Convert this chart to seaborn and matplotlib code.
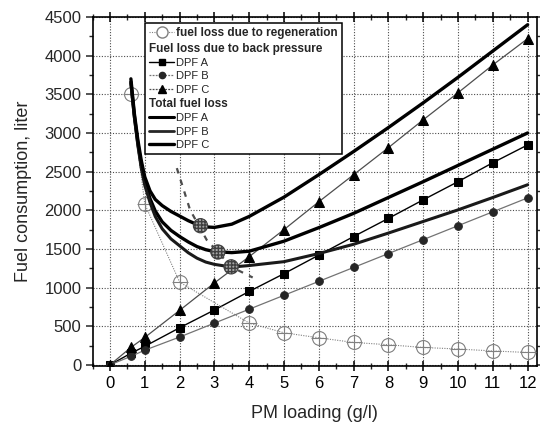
import matplotlib
matplotlib.use("Agg")
import matplotlib.pyplot as plt
from matplotlib.lines import Line2D
from matplotlib.ticker import MultipleLocator
import seaborn as sns

sns.set_style("ticks")
plt.rcParams['font.family'] = ['Liberation Sans', 'DejaVu Sans']

# back pressure fuel loss (markers)
pm_bp = [0, 0.6, 1, 2, 3, 4, 5, 6, 7, 8, 9, 10, 11, 12]
bp_a = [0, 150, 240, 480, 710, 950, 1180, 1420, 1660, 1895, 2135, 2370, 2615, 2845]
bp_b = [0, 110, 190, 360, 540, 720, 900, 1080, 1260, 1440, 1620, 1800, 1980, 2160]
bp_c = [0, 225, 355, 705, 1060, 1400, 1750, 2110, 2460, 2810, 3170, 3520, 3880, 4220]

# fuel loss due to regeneration
pm_regen = [0.6, 1, 2, 4, 5, 6, 7, 8, 9, 10, 11, 12]
regen = [3500, 2080, 1070, 540, 415, 350, 290, 260, 225, 205, 180, 160]

# total fuel loss curves
pm_total = [0.6, 0.7, 0.8, 0.9, 1, 1.15, 1.3, 1.5, 1.75, 2, 2.25, 2.5, 2.75, 3, 3.5, 4,
            5, 6, 7, 8, 9, 10, 11, 12]
total_a = [3660, 3220, 2870, 2580, 2370, 2150, 1990, 1850, 1740, 1660, 1590, 1530, 1490,
           1465, 1452, 1470, 1600, 1775, 1960, 2165, 2370, 2580, 2790, 3000]
total_b = [3640, 3200, 2840, 2540, 2320, 2100, 1920, 1760, 1630, 1540, 1450, 1380, 1330,
           1300, 1265, 1285, 1335, 1440, 1560, 1705, 1855, 2005, 2165, 2330]
total_c = [3700, 3250, 2910, 2640, 2430, 2250, 2140, 2060, 1985, 1925, 1865, 1815, 1785,
           1778, 1820, 1920, 2170, 2460, 2760, 3070, 3390, 3720, 4060, 4400]

# minimum points and their locus
min_pm = [2.6, 3.1, 3.48]
min_val = [1800, 1460, 1268]
locus_pm = [1.92, 2.3, 2.78, 3.1, 3.48, 4.1]
locus_val = [2545, 2005, 1615, 1460, 1268, 1130]

fig = plt.figure(figsize=(5.4, 4.26), dpi=100)
ax = fig.add_axes([0.1715, 0.1408, 0.823, 0.8193])

ax.grid(True, which='major', color='0.3', linestyle=(0, (1, 1.5)), linewidth=0.8)
ax.set_axisbelow(True)

# back pressure series
sns.lineplot(x=pm_bp, y=bp_a, ax=ax, color='black', lw=1.0, marker='s', ms=6,
             mfc='black', mec='black', zorder=3)
sns.lineplot(x=pm_bp, y=bp_b, ax=ax, color='0.45', lw=0.9, marker='o', ms=5.5,
             mfc='0.15', mec='0.15', zorder=3)
sns.lineplot(x=pm_bp, y=bp_c, ax=ax, color='0.3', lw=0.9, marker='^', ms=7,
             mfc='black', mec='black', zorder=3)

# regeneration
sns.lineplot(x=pm_regen, y=regen, ax=ax, color='0.5', lw=0.8, linestyle=(0, (1, 1.2)),
             marker='o', ms=10, mfc='none', mec='0.5', mew=0.8, zorder=3)
ax.plot(pm_regen, regen, linestyle='none', marker='+', ms=12, color='0.5', mew=0.8, zorder=3)

# totals
sns.lineplot(x=pm_total, y=total_a, ax=ax, color='black', lw=2.4, zorder=4)
sns.lineplot(x=pm_total, y=total_b, ax=ax, color='0.1', lw=2.2, zorder=4)
sns.lineplot(x=pm_total, y=total_c, ax=ax, color='black', lw=2.4, zorder=4)

# minimum locus
ax.plot(locus_pm, locus_val, color='0.3', lw=1.6, linestyle=(0, (2.5, 3)), zorder=5)
ax.scatter(min_pm, min_val, s=105, facecolor='0.65', edgecolor='0.25', hatch='+++++',
           linewidth=0.8, zorder=6)

ax.set_xlim(-0.5, 12.27)
ax.set_ylim(-15, 4500)
ax.xaxis.set_major_locator(MultipleLocator(1))
ax.xaxis.set_minor_locator(MultipleLocator(0.5))
ax.yaxis.set_major_locator(MultipleLocator(500))
ax.yaxis.set_minor_locator(MultipleLocator(250))

for s in ax.spines.values():
    s.set_color('black')
    s.set_linewidth(1.2)

ax.tick_params(axis='x', which='major', direction='inout', length=7, width=1.1,
               top=True, labelsize=12, pad=4, colors='black')
ax.tick_params(axis='x', which='minor', direction='inout', length=4, width=1.0, top=True)
ax.tick_params(axis='y', which='major', direction='out', length=5, width=1.1,
               right=True, labelsize=12, pad=3)
ax.tick_params(axis='y', which='minor', direction='out', length=3, width=1.0, right=True)

ax.set_xlabel("PM loading (g/l)", fontsize=13, labelpad=10)
ax.set_ylabel("Fuel consumption, liter", fontsize=13, labelpad=9)

# legend
blank = Line2D([], [], linestyle='none')
handles = [
    Line2D([], [], color='0.5', lw=0.8, linestyle=(0, (1, 1.2)), marker='o', ms=8,
           mfc='white', mec='0.5'),
    blank,
    Line2D([], [], color='black', lw=1.0, marker='s', ms=5, mfc='black', mec='black'),
    Line2D([], [], color='0.45', lw=0.9, linestyle=(0, (1.5, 1)), marker='o', ms=4.5,
           mfc='0.15', mec='0.15'),
    Line2D([], [], color='0.3', lw=0.9, linestyle=(0, (1.5, 1)), marker='^', ms=6,
           mfc='black', mec='black'),
    blank,
    Line2D([], [], color='black', lw=2.2),
    Line2D([], [], color='0.15', lw=2.0),
    Line2D([], [], color='black', lw=2.4),
]
labels = ["fuel loss due to regeneration", "Fuel loss due to back pressure",
          "DPF A", "DPF B", "DPF C", "Total fuel loss", "DPF A", "DPF B", "DPF C"]
leg = ax.legend(handles, labels, loc='upper left', bbox_to_anchor=(0.118, 0.982),
                fontsize=8, frameon=True, fancybox=False, framealpha=1,
                edgecolor='black', borderpad=0.35, labelspacing=0.3,
                handlelength=2.3, handletextpad=0.15, borderaxespad=0)
leg.get_frame().set_linewidth(1.1)
leg.set_zorder(10)
headers = {0, 1, 5}
for i, t in enumerate(leg.get_texts()):
    if i in headers:
        t.set_fontweight('bold')
        t.set_fontsize(8.5)
items = leg._legend_handle_box.get_children()[0].get_children()
for i in (1, 5):
    items[i].sep = 0
    items[i].get_children()[0].width = 0

fig.savefig("out.png", dpi=100)
